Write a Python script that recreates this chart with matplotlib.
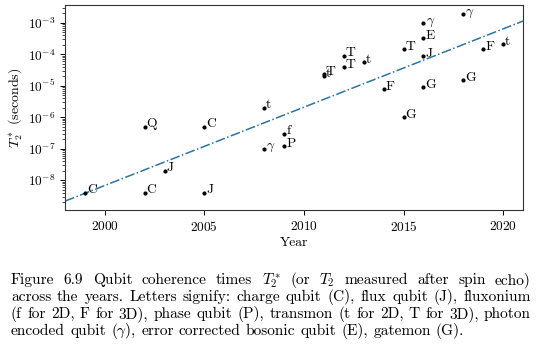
import numpy as np
import matplotlib
matplotlib.use("Agg")
import matplotlib.pyplot as plt

plt.rcParams["font.family"] = ["cmr10", "DejaVu Serif"]
plt.rcParams["mathtext.fontset"] = "cm"
plt.rcParams["axes.formatter.use_mathtext"] = True

# --- data ---
years = [1999, 2002, 2002, 2003, 2005, 2005, 2008, 2008, 2009, 2009,
         2011, 2011, 2012, 2012, 2013, 2014, 2015, 2015, 2016, 2016,
         2016, 2016, 2018, 2018, 2019, 2020]
t2 = [4e-9, 5e-7, 4e-9, 2e-8, 5e-7, 4e-9, 2e-6, 1e-7, 3e-7, 1.2e-7,
      2e-5, 2.3e-5, 9e-5, 4e-5, 5.6e-5, 7.8e-6, 1.5e-4, 1e-6, 1e-3, 3.2e-4,
      8.7e-5, 9e-6, 1.9e-3, 1.5e-5, 1.5e-4, 2.1e-4]
kinds = ["C", "Q", "C", "J", "C", "J", "t", r"$\gamma$", "f", "P",
         "t", "T", "T", "T", "t", "F", "T", "G", r"$\gamma$", "E",
         "J", "G", r"$\gamma$", "G", "F", "t"]

# trend line: log10(T2) = trend_at_2000 + trend_slope * (year - 2000)
trend_at_2000 = -8.17
trend_slope = 0.249

caption = [
    r"Figure 6.9 Qubit coherence times $T_2^*$ (or $T_2$ measured after spin echo)",
    "across the years. Letters signify: charge qubit (C), flux qubit (J), fluxonium",
    "(f for 2D, F for 3D), phase qubit (P), transmon (t for 2D, T for 3D), photon",
    r"encoded qubit ($\gamma$), error corrected bosonic qubit (E), gatemon (G).",
]

W, H = 540, 346
fig = plt.figure(figsize=(W / 100, H / 100), dpi=100)
ax = fig.add_axes([65 / W, 1 - 210 / H, (523 - 65) / W, (210 - 5) / H])

ax.scatter(years, t2, s=4, color="black", zorder=3)
for x, y, k in zip(years, t2, kinds):
    ax.annotate(k, (x, y), xytext=(1.5, -0.5), textcoords="offset points",
                ha="left", va="baseline", fontsize=9.8)

xs = np.array([1998, 2021])
ax.plot(xs, 10 ** (trend_at_2000 + trend_slope * (xs - 2000)),
        ls="-.", color="#2b74a6", lw=1.1)

ax.set_yscale("log")
ax.set_xlim(1998, 2021)
ax.set_ylim(10 ** -8.95, 10 ** -2.43)
ax.set_xticks([2000, 2005, 2010, 2015, 2020])
ax.set_yticks([1e-8, 1e-7, 1e-6, 1e-5, 1e-4, 1e-3])
ax.tick_params(labelsize=9.6, width=0.7, length=3.5)
ax.tick_params(which="minor", width=0.5, length=2)
for s in ax.spines.values():
    s.set_linewidth(0.8)
    s.set_color("#333333")
ax.set_xlabel("Year", fontsize=9.8, labelpad=2)
ax.set_ylabel(r"$T_2^*$ (seconds)", fontsize=10, labelpad=2)

# --- caption, justified word by word ---
renderer = fig.canvas.get_renderer()
left, right = 11, 531
baselines = [284, 301, 318, 335]
cap_size = 11.1

probe1 = fig.text(0, 0, "a a", fontsize=cap_size)
probe2 = fig.text(0, 0, "aa", fontsize=cap_size)
space = probe1.get_window_extent(renderer).width - probe2.get_window_extent(renderer).width
probe1.remove()
probe2.remove()

for i, line in enumerate(caption):
    words = line.split(" ")
    texts = [fig.text(0, 0, w, fontsize=cap_size, va="baseline", ha="left")
             for w in words]
    widths = [t.get_window_extent(renderer).width for t in texts]
    if i < len(caption) - 1:
        gap = (right - left - sum(widths)) / (len(words) - 1)
    else:
        gap = space
    xpos = left
    for t, w in zip(texts, widths):
        t.set_position((xpos / W, 1 - baselines[i] / H))
        xpos += w + gap

fig.savefig("out.png", dpi=100)
